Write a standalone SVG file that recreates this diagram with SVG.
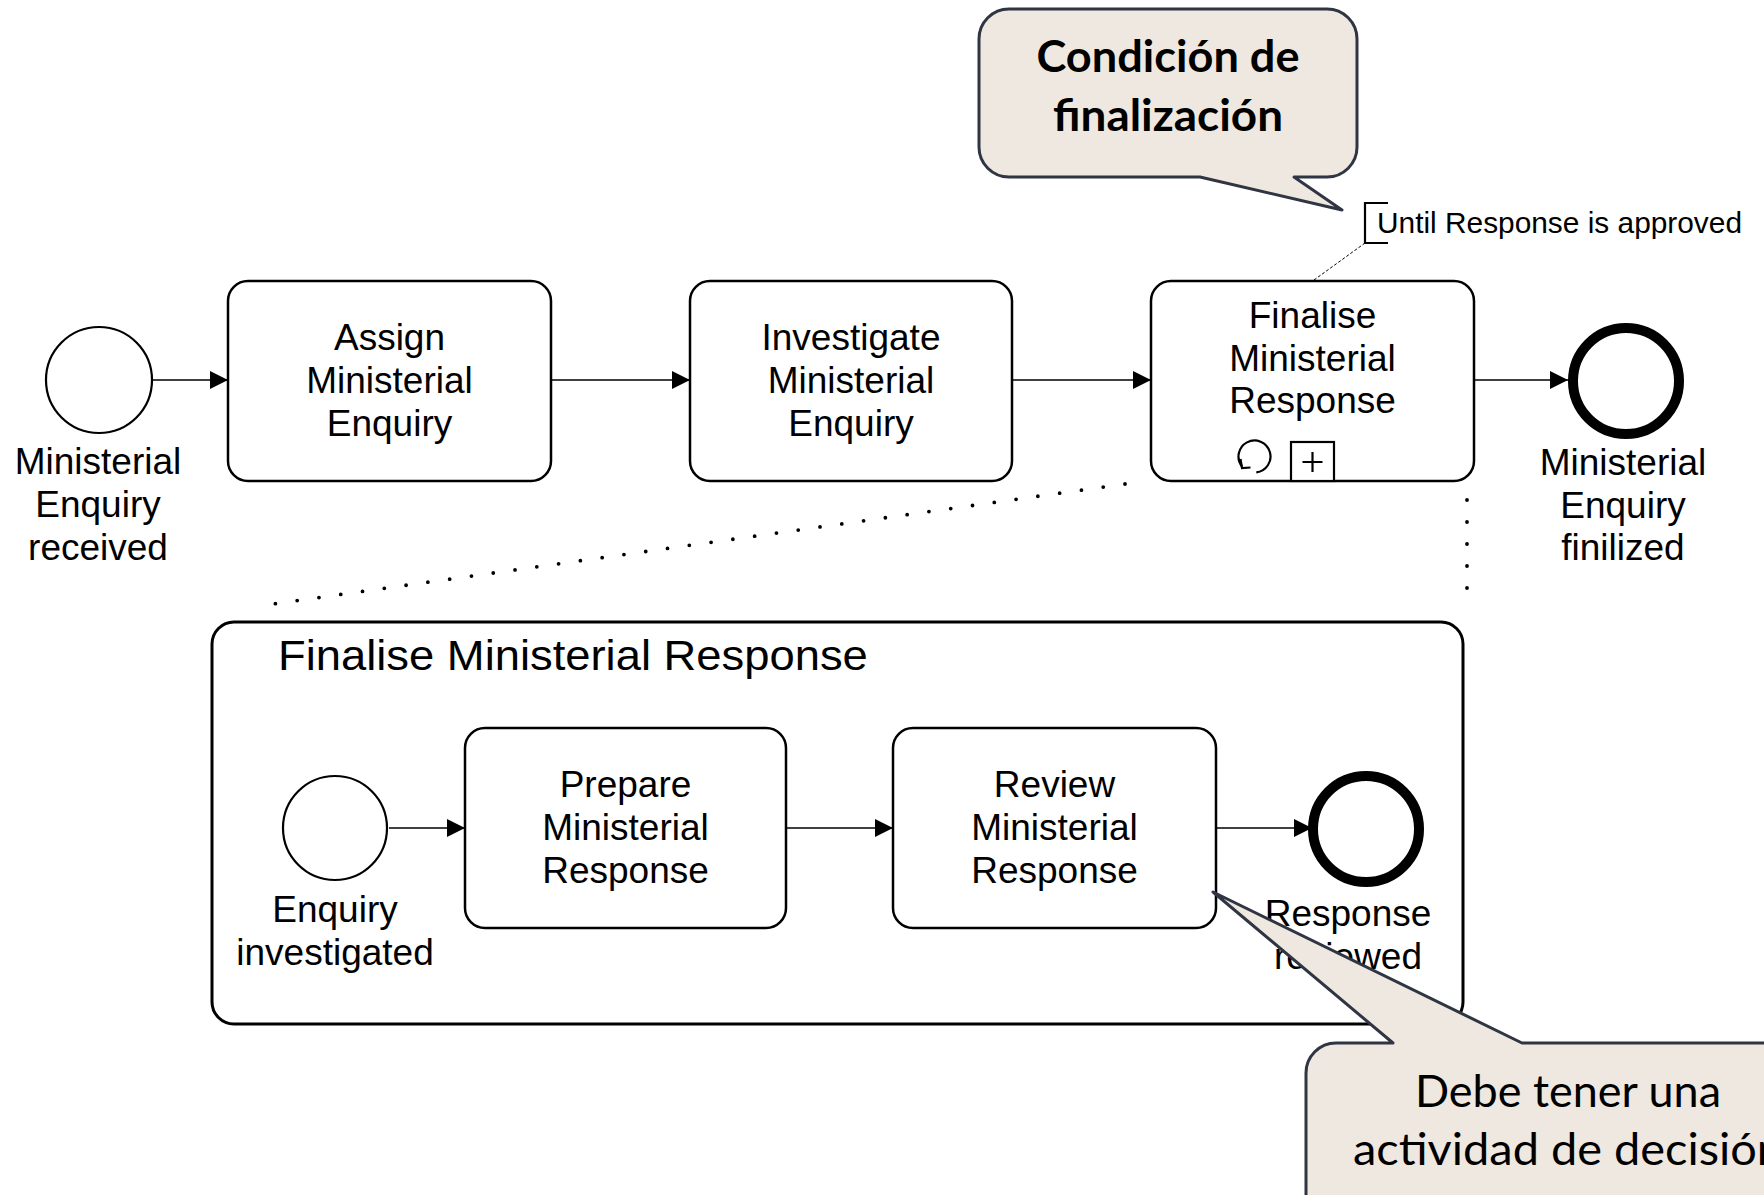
<svg xmlns="http://www.w3.org/2000/svg" width="1764" height="1195" viewBox="0 0 1764 1195">
  <style>
    .task { fill: #ffffff; stroke: #000000; stroke-width: 2.5; }
    .start { fill: #ffffff; stroke: #000000; stroke-width: 2.2; }
    .end { fill: #ffffff; stroke: #000000; stroke-width: 10; }
    .flow { fill: none; stroke: #000000; stroke-width: 1.5; marker-end: url(#arrow); }
    .lbl { font-family: "Liberation Sans", Arial, sans-serif; font-size: 37px; fill: #000000; text-anchor: middle; }
    .callout { fill: #eee8e1; stroke: #2f3542; stroke-width: 3; stroke-linejoin: round; }
    .ctext { font-family: Lato, "Open Sans", sans-serif; font-size: 44px; fill: #000000; text-anchor: middle; }
    .dots { fill: none; stroke: #000000; stroke-width: 3.8; stroke-linecap: round; stroke-dasharray: 0 22; }
    .mk { fill: none; stroke: #000000; stroke-width: 2.2; }
  </style>
  <defs>
    <marker id="arrow" viewBox="0 0 18 18" refX="18" refY="9" markerWidth="18" markerHeight="18" markerUnits="userSpaceOnUse" orient="auto">
      <path d="M0,0 L18,9 L0,18 Z" fill="#000000"/>
    </marker>
  </defs>

  <rect width="1764" height="1195" fill="#ffffff"/>

  <!-- sequence flows -->
  <g id="connectors">
    <line class="flow" x1="153" y1="380" x2="228" y2="380"/>
    <line class="flow" x1="551" y1="380" x2="690" y2="380"/>
    <line class="flow" x1="1012" y1="380" x2="1151" y2="380"/>
    <line class="flow" x1="1474" y1="380" x2="1568" y2="380"/>
    <line class="flow" x1="389" y1="828" x2="465" y2="828"/>
    <line class="flow" x1="786" y1="828" x2="893" y2="828"/>
    <line class="flow" x1="1216" y1="828" x2="1312" y2="828"/>
    <!-- association to the text annotation -->
    <line x1="1314" y1="280" x2="1365" y2="243" stroke="#000000" stroke-width="1" stroke-dasharray="3 2"/>
    <!-- expansion guides -->
    <line class="dots" x1="1125" y1="484" x2="266" y2="605"/>
    <line class="dots" x1="1467" y1="500" x2="1467" y2="592"/>
  </g>

  <!-- top level process -->
  <g id="start-received">
    <circle class="start" cx="99" cy="380" r="53"/>
    <text class="lbl"><tspan x="98" y="474">Ministerial</tspan><tspan x="98" y="517">Enquiry</tspan><tspan x="98" y="560">received</tspan></text>
  </g>

  <g id="task-assign">
    <rect class="task" x="228" y="281" width="323" height="200" rx="20"/>
    <text class="lbl"><tspan x="389.5" y="350">Assign</tspan><tspan x="389.5" y="393">Ministerial</tspan><tspan x="389.5" y="436">Enquiry</tspan></text>
  </g>

  <g id="task-investigate">
    <rect class="task" x="690" y="281" width="322" height="200" rx="20"/>
    <text class="lbl"><tspan x="851" y="350">Investigate</tspan><tspan x="851" y="393">Ministerial</tspan><tspan x="851" y="436">Enquiry</tspan></text>
  </g>

  <g id="task-finalise">
    <rect class="task" x="1151" y="281" width="323" height="200" rx="20"/>
    <text class="lbl"><tspan x="1312.5" y="328">Finalise</tspan><tspan x="1312.5" y="371">Ministerial</tspan><tspan x="1312.5" y="413">Response</tspan></text>
    <!-- loop marker -->
    <path class="mk" d="M1256.3,472.4 A16,16 0 1,0 1242,466.5"/>
    <path class="mk" d="M1240.5,459 L1242,468 L1250.5,467.5"/>
    <!-- collapsed sub-process marker -->
    <rect x="1291" y="442" width="43" height="39" fill="#ffffff" stroke="#000000" stroke-width="2.2"/>
    <path d="M1302.5,462 H1322.5 M1312.5,452 V472" stroke="#000000" stroke-width="2.2"/>
  </g>

  <g id="end-finalized">
    <circle class="end" cx="1626" cy="381" r="53"/>
    <text class="lbl"><tspan x="1623" y="475">Ministerial</tspan><tspan x="1623" y="518">Enquiry</tspan><tspan x="1623" y="560">finilized</tspan></text>
  </g>

  <g id="annotation-until">
    <path d="M1388,203 H1365 V243 H1388" fill="none" stroke="#000000" stroke-width="2.2"/>
    <text x="1377" y="233" textLength="365" lengthAdjust="spacingAndGlyphs" font-family="Liberation Sans, Arial, sans-serif" font-size="29" fill="#000000">Until Response is approved</text>
  </g>

  <!-- expanded sub-process -->
  <g id="subprocess-finalise">
    <rect x="212" y="622" width="1251" height="402" rx="22" fill="none" stroke="#000000" stroke-width="3"/>
    <text class="lbl" style="font-size:42px; text-anchor:start" transform="translate(278 0) scale(1.08 1)" x="0" y="670">Finalise Ministerial Response</text>
  </g>

  <g id="start-investigated">
    <circle class="start" cx="335" cy="828" r="52"/>
    <text class="lbl"><tspan x="335" y="922">Enquiry</tspan><tspan x="335" y="965">investigated</tspan></text>
  </g>

  <g id="task-prepare">
    <rect class="task" x="465" y="728" width="321" height="200" rx="20"/>
    <text class="lbl"><tspan x="625.5" y="797">Prepare</tspan><tspan x="625.5" y="840">Ministerial</tspan><tspan x="625.5" y="883">Response</tspan></text>
  </g>

  <g id="task-review">
    <rect class="task" x="893" y="728" width="323" height="200" rx="20"/>
    <text class="lbl"><tspan x="1054.5" y="797">Review</tspan><tspan x="1054.5" y="840">Ministerial</tspan><tspan x="1054.5" y="883">Response</tspan></text>
  </g>

  <g id="end-reviewed">
    <circle class="end" cx="1366" cy="829" r="53"/>
    <text class="lbl"><tspan x="1348" y="926">Response</tspan><tspan x="1348" y="969">reviewed</tspan></text>
  </g>

  <!-- callouts -->
  <g id="callout-condition">
    <path class="callout" d="M1009,9 H1327 A30,30 0 0,1 1357,39 V147 A30,30 0 0,1 1327,177 H1294 L1342,210 L1200,177 H1009 A30,30 0 0,1 979,147 V39 A30,30 0 0,1 1009,9 Z"/>
    <text class="ctext" font-weight="bold" x="1168" y="72" textLength="263" lengthAdjust="spacingAndGlyphs">Condición de</text>
    <text class="ctext" font-weight="bold" x="1168" y="131" textLength="230" lengthAdjust="spacingAndGlyphs">finalización</text>
  </g>

  <g id="callout-decision">
    <path class="callout" d="M1336,1043 H1393 L1213,892 L1522,1043 H1800 V1230 H1306 V1073 A30,30 0 0,1 1336,1043 Z"/>
    <text class="ctext" x="1568" y="1107" textLength="306" lengthAdjust="spacingAndGlyphs">Debe tener una</text>
    <text class="ctext" x="1568" y="1165" textLength="430" lengthAdjust="spacingAndGlyphs">actividad de decisión</text>
  </g>
</svg>
